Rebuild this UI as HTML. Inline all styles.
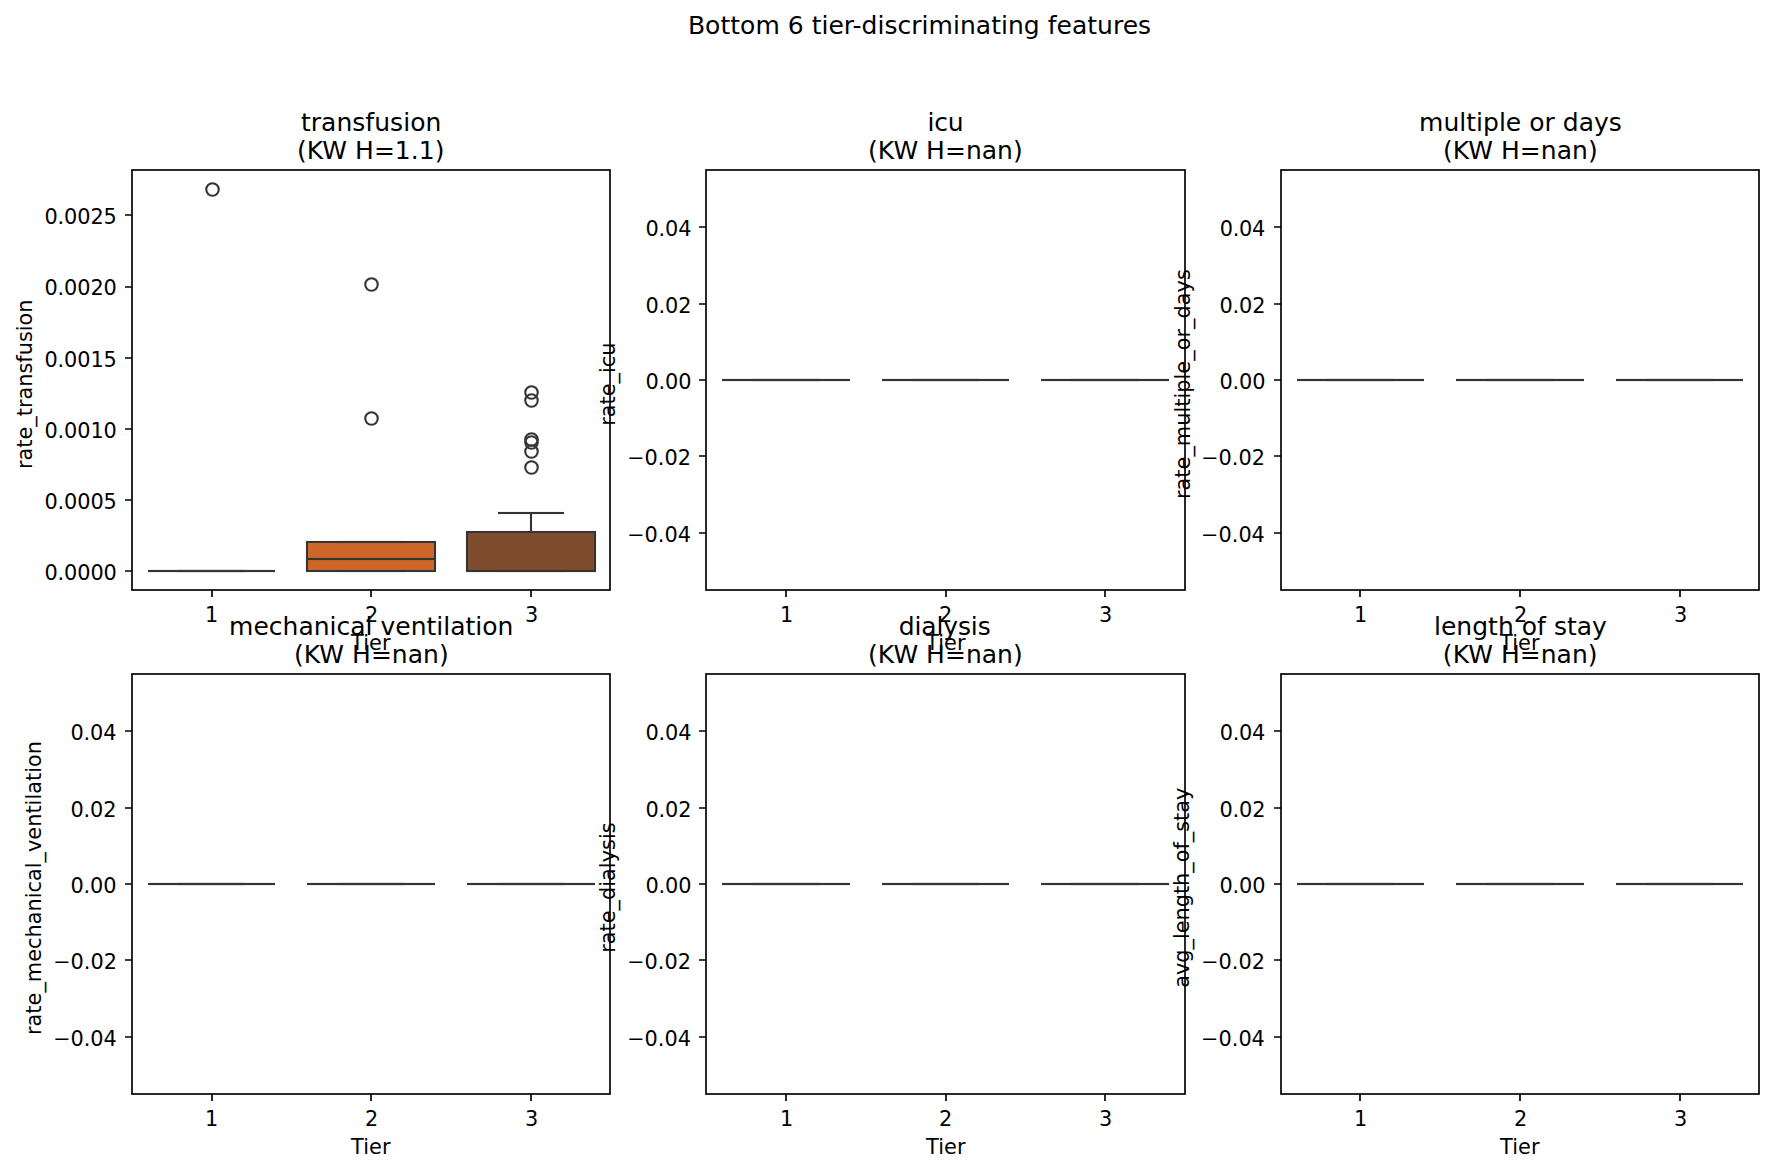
<!DOCTYPE html>
<html lang="en">
<head>
<meta charset="utf-8">
<title>Bottom 6 tier-discriminating features</title>
<style>
html,body{margin:0;padding:0;background:#fff;}
body{width:1774px;height:1172px;overflow:hidden;}
svg{display:block;}
text{font-family:"DejaVu Sans","Liberation Sans",sans-serif;fill:#000;}
.t10{font-size:20.8333px;}
.t12{font-size:25.0000px;}
.m{text-anchor:middle;}
.e{text-anchor:end;}
.sp{fill:none;stroke:#000;stroke-width:1.6667;stroke-linecap:square;stroke-linejoin:miter;}
.tk{stroke:#000;stroke-width:1.6667;fill:none;}
.bx{stroke:#343434;stroke-width:2.0000;stroke-linejoin:miter;}
.ln{stroke:#343434;stroke-width:2.0000;fill:none;}
.fr{stroke:#343434;stroke-width:4;stroke-opacity:.043;fill:none;}
.fl{stroke:#343434;stroke-width:2.0833;fill:none;}
</style>
</head>
<body>
<svg width="1774" height="1172" viewBox="0 0 1774 1172">
<rect x="0" y="0" width="1774" height="1172" fill="#fff"/>
<g id="ax0">
<path class="fr" d="M148 571 H275"/><path class="ln" d="M148 571 H275"/>
<path class="fr" stroke-linecap="square" d="M180 571 H243"/><path class="ln" stroke-linecap="square" d="M180 571 H243"/>
<path class="fr" stroke-linecap="square" d="M180 571 H243"/><path class="ln" stroke-linecap="square" d="M180 571 H243"/>
<path class="fr" d="M148 571 H275"/><path class="ln" d="M148 571 H275"/>
<rect class="fr" x="307" y="542" width="128" height="29"/><rect class="bx" x="307" y="542" width="128" height="29" fill="#cd6629"/>
<path class="fr" stroke-linecap="square" d="M339 571 H403"/><path class="ln" stroke-linecap="square" d="M339 571 H403"/>
<path class="fr" stroke-linecap="square" d="M339 542 H403"/><path class="ln" stroke-linecap="square" d="M339 542 H403"/>
<path class="fr" d="M307 559 H435"/><path class="ln" d="M307 559 H435"/>
<rect class="fr" x="467" y="532" width="128" height="39"/><rect class="bx" x="467" y="532" width="128" height="39" fill="#804c2e"/>
<path class="fr" d="M531 532 V513"/><path class="ln" d="M531 532 V513"/>
<path class="fr" stroke-linecap="square" d="M499 571 H563"/><path class="ln" stroke-linecap="square" d="M499 571 H563"/>
<path class="fr" stroke-linecap="square" d="M499 513 H563"/><path class="ln" stroke-linecap="square" d="M499 513 H563"/>
<path class="fr" d="M467 571 H595"/><path class="ln" d="M467 571 H595"/>
<circle class="fl" cx="212.50" cy="189.50" r="6.25"/>
<circle class="fl" cx="371.50" cy="284.50" r="6.25"/>
<circle class="fl" cx="371.50" cy="418.50" r="6.25"/>
<circle class="fl" cx="531.50" cy="392.50" r="6.25"/>
<circle class="fl" cx="531.50" cy="400.50" r="6.25"/>
<circle class="fl" cx="531.50" cy="439.50" r="6.25"/>
<circle class="fl" cx="531.50" cy="442.50" r="6.25"/>
<circle class="fl" cx="531.50" cy="451.50" r="6.25"/>
<circle class="fl" cx="531.50" cy="467.50" r="6.25"/>
<rect class="sp" x="132" y="170" width="478" height="420"/>
<path class="tk" d="M212 590 v7M371 590 v7M531 590 v7"/>
<text class="t10 m" x="211.58" y="622.41">1</text>
<text dx="0.50" letter-spacing="-0.100" class="t10 m" x="371.14" y="622.41">2</text>
<text class="t10 m" x="531.70" y="622.41">3</text>
<text dx="-0.25" letter-spacing="0.100" class="t10 m" x="371.14" y="649.91">Tier</text>
<path class="tk" d="M132 571 h-7M132 500 h-7M132 429 h-7M132 358 h-7M132 287 h-7M132 215 h-7"/>
<text dx="-0.50" letter-spacing="-0.100" class="t10 e" x="117.22" y="579.83">0.0000</text>
<text dx="-0.50" letter-spacing="-0.100" class="t10 e" x="117.22" y="508.64">0.0005</text>
<text dx="-0.50" dy="0.25" letter-spacing="-0.100" class="t10 e" x="117.22" y="437.45">0.0010</text>
<text dx="-0.50" dy="-0.25" letter-spacing="-0.100" class="t10 e" x="117.22" y="367.26">0.0015</text>
<text dx="-0.50" letter-spacing="-0.100" class="t10 e" x="117.22" y="295.07">0.0020</text>
<text dx="-0.50" letter-spacing="-0.100" class="t10 e" x="117.22" y="223.88">0.0025</text>
<text dx="-0.75" dy="-0.25" letter-spacing="0.013" class="t10 m" transform="translate(32.07 383.50) rotate(-90)">rate_transfusion</text>
<text letter-spacing="0.037" class="t12 m" x="371.14" y="130.51">transfusion</text>
<text dx="-0.38" letter-spacing="0.025" class="t12 m" x="371.14" y="158.50">(KW H=1.1)</text>
</g>
<g id="ax1">
<path class="fr" d="M722 380 H850"/><path class="ln" d="M722 380 H850"/><path class="fr" stroke-linecap="square" d="M754 380 H818"/><path class="ln" stroke-linecap="square" d="M754 380 H818"/><path class="fr" stroke-linecap="square" d="M754 380 H818"/><path class="ln" stroke-linecap="square" d="M754 380 H818"/><path class="fr" d="M722 380 H850"/><path class="ln" d="M722 380 H850"/>
<path class="fr" d="M882 380 H1009"/><path class="ln" d="M882 380 H1009"/><path class="fr" stroke-linecap="square" d="M914 380 H977"/><path class="ln" stroke-linecap="square" d="M914 380 H977"/><path class="fr" stroke-linecap="square" d="M914 380 H977"/><path class="ln" stroke-linecap="square" d="M914 380 H977"/><path class="fr" d="M882 380 H1009"/><path class="ln" d="M882 380 H1009"/>
<path class="fr" d="M1041 380 H1169"/><path class="ln" d="M1041 380 H1169"/><path class="fr" stroke-linecap="square" d="M1073 380 H1137"/><path class="ln" stroke-linecap="square" d="M1073 380 H1137"/><path class="fr" stroke-linecap="square" d="M1073 380 H1137"/><path class="ln" stroke-linecap="square" d="M1073 380 H1137"/><path class="fr" d="M1041 380 H1169"/><path class="ln" d="M1041 380 H1169"/>
<rect class="sp" x="706" y="170" width="479" height="420"/>
<path class="tk" d="M786 590 v7M946 590 v7M1105 590 v7"/>
<text letter-spacing="-0.100" class="t10 m" x="786.49" y="622.41">1</text>
<text class="t10 m" x="945.55" y="622.41">2</text>
<text dx="-0.50" letter-spacing="-0.100" class="t10 m" x="1106.11" y="622.41">3</text>
<text dx="0.25" letter-spacing="0.050" class="t10 m" x="945.55" y="649.91">Tier</text>
<path class="tk" d="M706 533 h-7M706 456 h-7M706 380 h-7M706 304 h-7M706 227 h-7"/>
<text dx="-0.75" letter-spacing="-0.025" class="t10 e" x="691.63" y="541.65">−0.04</text>
<text dx="-0.75" letter-spacing="-0.025" class="t10 e" x="691.63" y="465.28">−0.02</text>
<text dx="-0.25" letter-spacing="-0.100" class="t10 e" x="691.63" y="388.92">0.00</text>
<text dx="-0.25" letter-spacing="-0.100" class="t10 e" x="691.63" y="312.56">0.02</text>
<text dx="-0.25" letter-spacing="-0.100" class="t10 e" x="691.63" y="236.19">0.04</text>
<text dx="-0.75" class="t10 m" transform="translate(615.26 383.50) rotate(-90)">rate_icu</text>
<text dx="-0.12" letter-spacing="-0.150" class="t12 m" x="945.55" y="130.51">icu</text>
<text dx="-0.12" letter-spacing="0.025" class="t12 m" x="945.55" y="158.50">(KW H=nan)</text>
</g>
<g id="ax2">
<path class="fr" d="M1297 380 H1424"/><path class="ln" d="M1297 380 H1424"/><path class="fr" stroke-linecap="square" d="M1328 380 H1392"/><path class="ln" stroke-linecap="square" d="M1328 380 H1392"/><path class="fr" stroke-linecap="square" d="M1328 380 H1392"/><path class="ln" stroke-linecap="square" d="M1328 380 H1392"/><path class="fr" d="M1297 380 H1424"/><path class="ln" d="M1297 380 H1424"/>
<path class="fr" d="M1456 380 H1584"/><path class="ln" d="M1456 380 H1584"/><path class="fr" stroke-linecap="square" d="M1488 380 H1552"/><path class="ln" stroke-linecap="square" d="M1488 380 H1552"/><path class="fr" stroke-linecap="square" d="M1488 380 H1552"/><path class="ln" stroke-linecap="square" d="M1488 380 H1552"/><path class="fr" d="M1456 380 H1584"/><path class="ln" d="M1456 380 H1584"/>
<path class="fr" d="M1616 380 H1743"/><path class="ln" d="M1616 380 H1743"/><path class="fr" stroke-linecap="square" d="M1648 380 H1711"/><path class="ln" stroke-linecap="square" d="M1648 380 H1711"/><path class="fr" stroke-linecap="square" d="M1648 380 H1711"/><path class="ln" stroke-linecap="square" d="M1648 380 H1711"/><path class="fr" d="M1616 380 H1743"/><path class="ln" d="M1616 380 H1743"/>
<rect class="sp" x="1281" y="170" width="478" height="420"/>
<path class="tk" d="M1360 590 v7M1520 590 v7M1680 590 v7"/>
<text dx="0.25" letter-spacing="-0.100" class="t10 m" x="1360.40" y="622.41">1</text>
<text dx="0.50" letter-spacing="-0.100" class="t10 m" x="1519.96" y="622.41">2</text>
<text class="t10 m" x="1680.52" y="622.41">3</text>
<text dx="-0.12" dy="-0.25" letter-spacing="0.050" class="t10 m" x="1519.96" y="649.91">Tier</text>
<path class="tk" d="M1281 533 h-7M1281 456 h-7M1281 380 h-7M1281 304 h-7M1281 227 h-7"/>
<text dx="-0.88" letter-spacing="-0.013" class="t10 e" x="1265.74" y="541.65">−0.04</text>
<text dx="-0.75" class="t10 e" x="1265.74" y="465.28">−0.02</text>
<text dx="-0.38" dy="-0.25" letter-spacing="-0.125" class="t10 e" x="1265.74" y="388.92">0.00</text>
<text dx="-0.38" letter-spacing="-0.125" class="t10 e" x="1265.74" y="312.56">0.02</text>
<text dx="-0.62" dy="-0.50" letter-spacing="-0.225" class="t10 e" x="1265.74" y="236.19">0.04</text>
<text dx="-0.62" letter-spacing="0.037" class="t10 m" transform="translate(1189.67 383.50) rotate(-90)">rate_multiple_or_days</text>
<text dx="0.50" letter-spacing="0.013" class="t12 m" x="1519.96" y="130.51">multiple or days</text>
<text dx="0.38" letter-spacing="0.025" class="t12 m" x="1519.96" y="158.50">(KW H=nan)</text>
</g>
<g id="ax3">
<path class="fr" d="M148 884 H275"/><path class="ln" d="M148 884 H275"/><path class="fr" stroke-linecap="square" d="M180 884 H243"/><path class="ln" stroke-linecap="square" d="M180 884 H243"/><path class="fr" stroke-linecap="square" d="M180 884 H243"/><path class="ln" stroke-linecap="square" d="M180 884 H243"/><path class="fr" d="M148 884 H275"/><path class="ln" d="M148 884 H275"/>
<path class="fr" d="M307 884 H435"/><path class="ln" d="M307 884 H435"/><path class="fr" stroke-linecap="square" d="M339 884 H403"/><path class="ln" stroke-linecap="square" d="M339 884 H403"/><path class="fr" stroke-linecap="square" d="M339 884 H403"/><path class="ln" stroke-linecap="square" d="M339 884 H403"/><path class="fr" d="M307 884 H435"/><path class="ln" d="M307 884 H435"/>
<path class="fr" d="M467 884 H595"/><path class="ln" d="M467 884 H595"/><path class="fr" stroke-linecap="square" d="M499 884 H563"/><path class="ln" stroke-linecap="square" d="M499 884 H563"/><path class="fr" stroke-linecap="square" d="M499 884 H563"/><path class="ln" stroke-linecap="square" d="M499 884 H563"/><path class="fr" d="M467 884 H595"/><path class="ln" d="M467 884 H595"/>
<rect class="sp" x="132" y="674" width="478" height="420"/>
<path class="tk" d="M212 1094 v7M371 1094 v7M531 1094 v7"/>
<text class="t10 m" x="211.58" y="1126.41">1</text>
<text dx="0.50" letter-spacing="-0.100" class="t10 m" x="371.14" y="1126.41">2</text>
<text class="t10 m" x="531.70" y="1126.41">3</text>
<text dx="-0.25" letter-spacing="0.100" class="t10 m" x="371.14" y="1153.91">Tier</text>
<path class="tk" d="M132 1037 h-7M132 960 h-7M132 884 h-7M132 808 h-7M132 731 h-7"/>
<text dx="-0.38" letter-spacing="-0.025" class="t10 e" x="117.22" y="1045.65">−0.04</text>
<text dx="-0.25" class="t10 e" x="117.22" y="969.28">−0.02</text>
<text dx="-0.75" letter-spacing="-0.075" class="t10 e" x="117.22" y="892.92">0.00</text>
<text dx="-0.75" letter-spacing="-0.075" class="t10 e" x="117.22" y="816.56">0.02</text>
<text dx="-0.75" letter-spacing="-0.075" class="t10 e" x="117.22" y="740.19">0.04</text>
<text dx="-0.50" letter-spacing="0.025" class="t10 m" transform="translate(41.15 887.50) rotate(-90)">rate_mechanical_ventilation</text>
<text dx="0.12" class="t12 m" x="371.14" y="634.51">mechanical ventilation</text>
<text dx="0.25" letter-spacing="0.025" class="t12 m" x="371.14" y="662.50">(KW H=nan)</text>
</g>
<g id="ax4">
<path class="fr" d="M722 884 H850"/><path class="ln" d="M722 884 H850"/><path class="fr" stroke-linecap="square" d="M754 884 H818"/><path class="ln" stroke-linecap="square" d="M754 884 H818"/><path class="fr" stroke-linecap="square" d="M754 884 H818"/><path class="ln" stroke-linecap="square" d="M754 884 H818"/><path class="fr" d="M722 884 H850"/><path class="ln" d="M722 884 H850"/>
<path class="fr" d="M882 884 H1009"/><path class="ln" d="M882 884 H1009"/><path class="fr" stroke-linecap="square" d="M914 884 H977"/><path class="ln" stroke-linecap="square" d="M914 884 H977"/><path class="fr" stroke-linecap="square" d="M914 884 H977"/><path class="ln" stroke-linecap="square" d="M914 884 H977"/><path class="fr" d="M882 884 H1009"/><path class="ln" d="M882 884 H1009"/>
<path class="fr" d="M1041 884 H1169"/><path class="ln" d="M1041 884 H1169"/><path class="fr" stroke-linecap="square" d="M1073 884 H1137"/><path class="ln" stroke-linecap="square" d="M1073 884 H1137"/><path class="fr" stroke-linecap="square" d="M1073 884 H1137"/><path class="ln" stroke-linecap="square" d="M1073 884 H1137"/><path class="fr" d="M1041 884 H1169"/><path class="ln" d="M1041 884 H1169"/>
<rect class="sp" x="706" y="674" width="479" height="420"/>
<path class="tk" d="M786 1094 v7M946 1094 v7M1105 1094 v7"/>
<text letter-spacing="-0.100" class="t10 m" x="786.49" y="1126.41">1</text>
<text class="t10 m" x="945.55" y="1126.41">2</text>
<text dx="-0.50" letter-spacing="-0.100" class="t10 m" x="1106.11" y="1126.41">3</text>
<text dx="0.25" letter-spacing="0.050" class="t10 m" x="945.55" y="1153.91">Tier</text>
<path class="tk" d="M706 1037 h-7M706 960 h-7M706 884 h-7M706 808 h-7M706 731 h-7"/>
<text dx="-0.75" letter-spacing="-0.025" class="t10 e" x="691.63" y="1045.65">−0.04</text>
<text dx="-0.75" letter-spacing="-0.025" class="t10 e" x="691.63" y="969.28">−0.02</text>
<text dx="-0.25" letter-spacing="-0.100" class="t10 e" x="691.63" y="892.92">0.00</text>
<text dx="-0.25" letter-spacing="-0.100" class="t10 e" x="691.63" y="816.56">0.02</text>
<text dx="-0.25" letter-spacing="-0.100" class="t10 e" x="691.63" y="740.19">0.04</text>
<text dx="-0.12" dy="-0.25" letter-spacing="0.025" class="t10 m" transform="translate(615.26 887.50) rotate(-90)">rate_dialysis</text>
<text dx="-0.88" letter-spacing="-0.125" class="t12 m" x="945.55" y="634.51">dialysis</text>
<text dx="-0.12" letter-spacing="0.025" class="t12 m" x="945.55" y="662.50">(KW H=nan)</text>
</g>
<g id="ax5">
<path class="fr" d="M1297 884 H1424"/><path class="ln" d="M1297 884 H1424"/><path class="fr" stroke-linecap="square" d="M1328 884 H1392"/><path class="ln" stroke-linecap="square" d="M1328 884 H1392"/><path class="fr" stroke-linecap="square" d="M1328 884 H1392"/><path class="ln" stroke-linecap="square" d="M1328 884 H1392"/><path class="fr" d="M1297 884 H1424"/><path class="ln" d="M1297 884 H1424"/>
<path class="fr" d="M1456 884 H1584"/><path class="ln" d="M1456 884 H1584"/><path class="fr" stroke-linecap="square" d="M1488 884 H1552"/><path class="ln" stroke-linecap="square" d="M1488 884 H1552"/><path class="fr" stroke-linecap="square" d="M1488 884 H1552"/><path class="ln" stroke-linecap="square" d="M1488 884 H1552"/><path class="fr" d="M1456 884 H1584"/><path class="ln" d="M1456 884 H1584"/>
<path class="fr" d="M1616 884 H1743"/><path class="ln" d="M1616 884 H1743"/><path class="fr" stroke-linecap="square" d="M1648 884 H1711"/><path class="ln" stroke-linecap="square" d="M1648 884 H1711"/><path class="fr" stroke-linecap="square" d="M1648 884 H1711"/><path class="ln" stroke-linecap="square" d="M1648 884 H1711"/><path class="fr" d="M1616 884 H1743"/><path class="ln" d="M1616 884 H1743"/>
<rect class="sp" x="1281" y="674" width="478" height="420"/>
<path class="tk" d="M1360 1094 v7M1520 1094 v7M1680 1094 v7"/>
<text dx="0.25" letter-spacing="-0.100" class="t10 m" x="1360.40" y="1126.41">1</text>
<text dx="0.50" letter-spacing="-0.100" class="t10 m" x="1519.96" y="1126.41">2</text>
<text class="t10 m" x="1680.52" y="1126.41">3</text>
<text dx="-0.12" dy="-0.25" letter-spacing="0.050" class="t10 m" x="1519.96" y="1153.91">Tier</text>
<path class="tk" d="M1281 1037 h-7M1281 960 h-7M1281 884 h-7M1281 808 h-7M1281 731 h-7"/>
<text dx="-0.88" letter-spacing="-0.013" class="t10 e" x="1265.74" y="1045.65">−0.04</text>
<text dx="-0.75" class="t10 e" x="1265.74" y="969.28">−0.02</text>
<text dx="-0.38" dy="-0.25" letter-spacing="-0.125" class="t10 e" x="1265.74" y="892.92">0.00</text>
<text dx="-0.38" letter-spacing="-0.125" class="t10 e" x="1265.74" y="816.56">0.02</text>
<text dx="-0.62" dy="-0.50" letter-spacing="-0.225" class="t10 e" x="1265.74" y="740.19">0.04</text>
<text dx="-0.25" dy="-1.00" class="t10 m" transform="translate(1189.67 887.50) rotate(-90)">avg_length_of_stay</text>
<text dx="0.50" letter-spacing="0.025" class="t12 m" x="1519.96" y="634.51">length of stay</text>
<text dx="0.25" letter-spacing="0.025" class="t12 m" x="1519.96" y="662.50">(KW H=nan)</text>
</g>
<text dx="0.25" letter-spacing="0.025" class="t12 m" x="919.30" y="34.00">Bottom 6 tier-discriminating features</text>
</svg>
</body>
</html>
